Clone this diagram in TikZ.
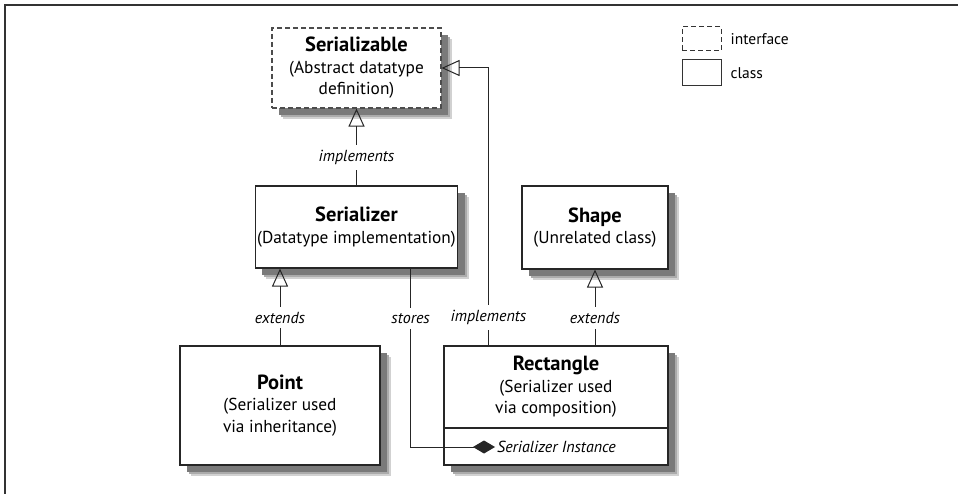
\documentclass[tikz,border=0pt]{standalone}
\usepackage{fontspec}
\setmainfont{PT Sans}
\usetikzlibrary{positioning, shadows, arrows.meta}

\tikzset{
  softshadow/.style={
    general shadow={draw=none, shadow xshift=11pt, shadow yshift=-11pt, fill=black!18},
    general shadow={draw=none, shadow xshift=9pt, shadow yshift=-9pt, fill=black!33},
    general shadow={draw=none, shadow xshift=7pt, shadow yshift=-7pt, fill=black!52}},
  classbox/.style={draw=black!85, line width=1.1pt, fill=white, inner sep=2pt,
    align=center, font=\fontsize{17.3}{21.5}\selectfont, softshadow},
  ifacebox/.style={classbox, draw=black!70, dash pattern=on 5pt off 3pt},
  lbl/.style={fill=white, inner sep=5pt, font=\itshape\fontsize{16}{20}\selectfont},
  relation/.style={draw=black!85, line width=1pt},
  generalizes/.style={relation, -{Triangle[open, length=18pt, width=16pt, line width=1pt]}},
  composes/.style={relation, -{Diamond[length=22pt, width=13pt]}},
  keybox/.style={draw=black!80, line width=1pt, minimum width=39pt, inner sep=0pt},
  keytext/.style={anchor=west, inner sep=0pt, font=\fontsize{15.5}{20}\selectfont}
}
\newcommand{\classname}[1]{\textbf{\fontsize{20.5}{22}\selectfont #1}}

\begin{document}
\begin{tikzpicture}[x=1pt, y=-1pt]
  \useasboundingbox (0,0) rectangle (958,494);
  \draw[line width=1.5pt, black!80] (5,494) -- (5,5) -- (958,5);

  \draw (356.5,68) node[ifacebox, minimum width=169pt, minimum height=80pt] (serializable)
      {\classname{Serializable}\\(Abstract datatype\\definition)}
    (356.5,227) node[classbox, minimum width=201pt, minimum height=82pt] (serializer)
      {\classname{Serializer}\\(Datatype implementation)}
    (595,227.5) node[classbox, minimum width=146pt, minimum height=83pt] (shape)
      {\classname{Shape}\\(Unrelated class)}
    (280,405.5) node[classbox, minimum width=200pt, minimum height=119pt] (point)
      {\classname{Point}\\(Serializer used\\via inheritance)}
    (556,387) node[classbox, minimum width=224pt, minimum height=82pt] (rectangle)
      {\classname{Rectangle}\\(Serializer used\\via composition)}
    (556,446.5) node[classbox, minimum width=224pt, minimum height=37pt] (rectinst) {}
    (495,447) node[keytext, inner sep=2pt, font=\itshape\fontsize{16}{20}\selectfont] (inst) {Serializer Instance};

  % legend
  \draw (701.5,39) node[keybox, dash pattern=on 5pt off 3pt, minimum height=24pt] (keyiface) {}
    (701.5,73) node[keybox, minimum height=26pt] (keyclass) {};
  \node[keytext, right=9pt of keyiface] (keyifacetext) {interface};
  \node[keytext, right=9pt of keyclass] (keyclasstext) {class};

  \draw[generalizes] (serializer) -- node[lbl, pos=0.36] {implements} (serializable);
  \draw[generalizes] (point.north) -- node[lbl, pos=0.36] {extends} (point.north |- serializer.south);
  \draw[generalizes] (shape.south |- rectangle.north) -- node[lbl, pos=0.36] {extends} (shape.south);
  \draw[generalizes] ([xshift=45pt]rectangle.north west) |- node[lbl, pos=0.05] {implements} (serializable.east);
  \draw[composes] ([xshift=156pt]serializer.south west) |- node[lbl, pos=0.14] {stores} (inst.west);
\end{tikzpicture}
\end{document}
